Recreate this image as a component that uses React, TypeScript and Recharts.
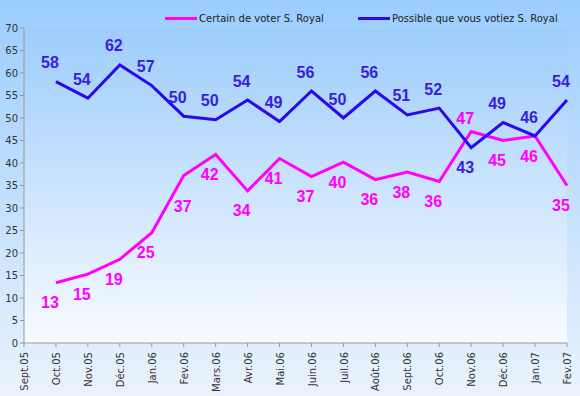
import React from 'react'
import { LineChart, Line, XAxis, YAxis, CartesianGrid, Legend, LabelList } from 'recharts'

const months = [
  'Sept.05', 'Oct.05', 'Nov.05', 'Déc.05', 'Jan.06', 'Fev.06', 'Mars.06', 'Avr.06', 'Mai.06',
  'Juin.06', 'Juil.06', 'Août.06', 'Sept.06', 'Oct.06', 'Nov.06', 'Déc.06', 'Jan.07', 'Fev.07',
]
const certain = [null, 13.4, 15.3, 18.6, 24.5, 37.2, 41.9, 33.8, 41, 37, 40.2, 36.3, 38, 35.9, 47, 45, 46, 35]
const possible = [null, 58.1, 54.4, 61.8, 57.2, 50.4, 49.6, 54, 49.2, 56, 50, 56, 50.7, 52.2, 43.4, 49, 46, 54]
const yTicks = [0, 5, 10, 15, 20, 25, 30, 35, 40, 45, 50, 55, 60, 65, 70]

const PINK = '#ff00ff'
const BLUE = '#2a08f0'
const BLUE_LABEL = '#3a1ee0'
const FONT = '"DejaVu Sans", Verdana, sans-serif'
const LABEL_FONT = '"Liberation Sans", Arial, sans-serif'

const data = months.map((m, i) => ({ month: m, certain: certain[i], possible: possible[i] }))

function makeLabel(key: 'certain' | 'possible', color: string) {
  return (props: any) => {
    const { x, y, value, index } = props
    if (value == null || x == null || y == null) return null
    const other = key === 'certain' ? possible[index] : certain[index]
    // the higher line gets its label above, the lower one below
    const above = key === 'certain' ? other != null && value > other : !(other != null && value < other)
    let dy = above ? (key === 'certain' ? -13 : -19) : 20
    // steep climb: push the label clear of the line
    const prev = key === 'certain' ? certain[index - 1] : possible[index - 1]
    if (!above && prev != null && value - prev > 10) dy = 31
    return (
      <text
        x={x - (dy === 31 ? 1 : 6)}
        y={y + dy}
        textAnchor="middle"
        dominantBaseline="central"
        fill={color}
        fontFamily={LABEL_FONT}
        fontWeight="bold"
        fontSize={16}
      >
        {Math.round(value)}
      </text>
    )
  }
}

function LegendBox() {
  const item = (color: string, text: string, left: number) => (
    <div style={{ position: 'absolute', left, top: 0, display: 'flex', alignItems: 'center' }}>
      <span style={{ width: 32, height: 3, background: color, display: 'inline-block' }} />
      <span style={{ fontSize: 10, color: '#222', fontFamily: FONT, marginLeft: 2 }}>{text}</span>
    </div>
  )
  return (
    <div style={{ position: 'relative', height: 14 }}>
      {item(PINK, 'Certain de voter S. Royal', 165)}
      {item(BLUE, 'Possible que vous votiez S. Royal', 358)}
    </div>
  )
}

export default function App() {
  return (
    <div style={{ width: 580, height: 396, background: 'linear-gradient(#9bcdfd, #eaf3fd)', position: 'relative' }}>
      <style>{'body{margin:0}'}</style>
      <svg width={0} height={0} style={{ position: 'absolute' }}>
        <defs>
          <linearGradient id="plotBg" x1="0" y1="0" x2="0" y2="1">
            <stop offset="0%" stopColor="#9dcdfb" />
            <stop offset="100%" stopColor="#f8fbff" />
          </linearGradient>
        </defs>
      </svg>
      <LineChart width={580} height={396} data={data} margin={{ top: 14, right: 13, left: 0, bottom: 0 }}>
        <CartesianGrid horizontal={false} vertical={false} fill="url(#plotBg)" />
        <Legend verticalAlign="top" content={() => <LegendBox />} wrapperStyle={{ top: 13, left: 0, width: 580 }} />
        <XAxis
          dataKey="month"
          interval={0}
          height={53}
          tickSize={4}
          stroke="#999"
          tick={{ fontSize: 10, fill: '#333', fontFamily: FONT, angle: -90, textAnchor: 'end', dx: -3, dy: 3 } as any}
        />
        <YAxis
          domain={[0, 70]}
          ticks={yTicks}
          width={24}
          tickSize={4}
          stroke="#999"
          tick={{ fontSize: 10, fill: '#333', fontFamily: FONT }}
        />
        <Line dataKey="certain" stroke={PINK} strokeWidth={3} dot={false} isAnimationActive={false}>
          <LabelList dataKey="certain" content={makeLabel('certain', PINK)} />
        </Line>
        <Line dataKey="possible" stroke={BLUE} strokeWidth={3} dot={false} isAnimationActive={false}>
          <LabelList dataKey="possible" content={makeLabel('possible', BLUE_LABEL)} />
        </Line>
      </LineChart>
    </div>
  )
}
